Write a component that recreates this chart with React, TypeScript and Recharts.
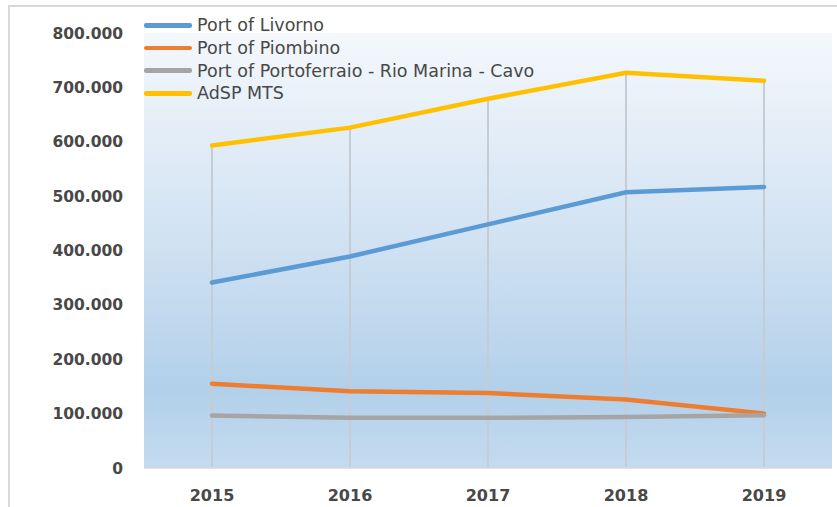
import React from "react";
import {
  CartesianGrid,
  Line,
  LineChart,
  ReferenceLine,
  XAxis,
  YAxis,
} from "recharts";

const years = ["2015", "2016", "2017", "2018", "2019"];
const livorno = [341000, 389000, 448000, 507000, 517000];
const piombino = [155000, 141000, 138000, 126000, 100000];
const portoferraio = [96700, 92300, 92300, 94000, 97200];
const adsp = [593000, 626000, 679000, 727000, 712000];
const yTicks = [0, 100000, 200000, 300000, 400000, 500000, 600000, 700000, 800000];

const series = [
  { key: "livorno", name: "Port of Livorno", color: "#5b9bd5" },
  { key: "piombino", name: "Port of Piombino", color: "#ed7d31" },
  { key: "portoferraio", name: "Port of Portoferraio - Rio Marina - Cavo", color: "#a5a5a5" },
  { key: "adsp", name: "AdSP MTS", color: "#ffc000" },
];

const data = years.map((year, i) => ({
  year,
  livorno: livorno[i],
  piombino: piombino[i],
  portoferraio: portoferraio[i],
  adsp: adsp[i],
}));

const fmt = (v: number) => (v === 0 ? "0" : v.toLocaleString("de-DE"));

const FONT = "'DejaVu Sans', sans-serif";
const TEXT = "#484848";

export default function App() {
  return (
    <div
      style={{
        position: "absolute",
        left: 0,
        top: 0,
        width: 837,
        height: 507,
        background: "#fff",
        overflow: "hidden",
        fontFamily: FONT,
      }}
    >
      <svg width={0} height={0} style={{ position: "absolute" }}>
        <defs>
          <linearGradient id="plotBg" x1="0" y1="0" x2="0" y2="1">
            <stop offset="0" stopColor="#f4f8fc" />
            <stop offset="0.45" stopColor="#d3e3f3" />
            <stop offset="0.82" stopColor="#b2d0ea" />
            <stop offset="1" stopColor="#c4dbef" />
          </linearGradient>
        </defs>
      </svg>
      <div
        style={{
          position: "absolute",
          left: 8,
          top: 5,
          width: 840,
          height: 510,
          borderTop: "2px solid #d9d9d9",
          borderLeft: "2px solid #d9d9d9",
        }}
      />
      <div style={{ position: "absolute", left: 0, top: 0 }}>
        <LineChart
          width={837}
          height={507}
          data={data}
          margin={{ top: 33, right: 5, bottom: 0, left: 0 }}
        >
          <CartesianGrid fill="url(#plotBg)" horizontal={false} vertical={false} />
          <XAxis
            dataKey="year"
            height={39}
            padding={{ left: 68, right: 68 }}
            axisLine={{ stroke: "#d9d9d9", strokeWidth: 1.5 }}
            tickLine={false}
            tickSize={0}
            tickMargin={22}
            tick={{ fill: TEXT, fontSize: 16, fontWeight: "bold", fontFamily: FONT }}
          />
          <YAxis
            width={144}
            domain={[0, 800000]}
            ticks={yTicks}
            tickFormatter={fmt}
            axisLine={false}
            tickLine={false}
            tickSize={0}
            tickMargin={21}
            tick={{ fill: TEXT, fontSize: 15.5, fontWeight: "bold", fontFamily: FONT }}
          />
          {years.map((y, i) => (
            <ReferenceLine
              key={y}
              segment={[
                { x: y, y: 0 },
                { x: y, y: adsp[i] },
              ]}
              stroke="#c5ccd4"
              strokeWidth={2}
            />
          ))}
          {series.map((s) => (
            <Line
              key={s.key}
              dataKey={s.key}
              name={s.name}
              stroke={s.color}
              strokeWidth={4.5}
              dot={false}
              type="linear"
              strokeLinecap="round"
              isAnimationActive={false}
            />
          ))}
        </LineChart>
      </div>
      <div style={{ position: "absolute", left: 144, top: 14 }}>
        {series.map((s) => (
          <div
            key={s.key}
            style={{ display: "flex", alignItems: "center", height: 22.7 }}
          >
            <div
              style={{
                width: 48,
                height: 4.5,
                borderRadius: 2,
                background: s.color,
                marginRight: 5,
              }}
            />
            <span style={{ fontSize: 17.5, color: TEXT, whiteSpace: "nowrap" }}>
              {s.name}
            </span>
          </div>
        ))}
      </div>
    </div>
  );
}
